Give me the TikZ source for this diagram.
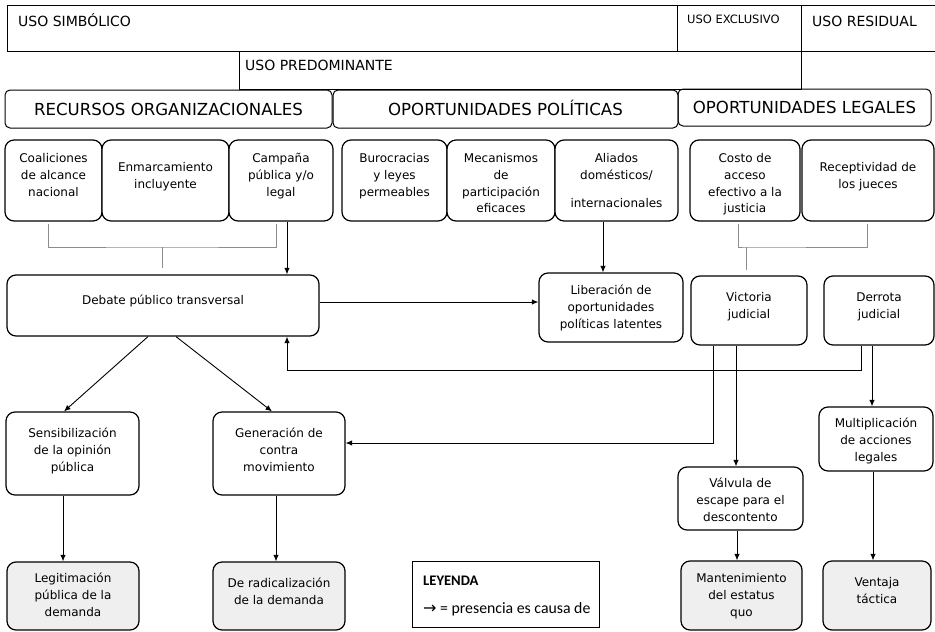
\documentclass[tikz,border=0pt]{standalone}
\usepackage{fontspec}
\setmainfont{DejaVu Sans}
\newfontfamily\legfont{Carlito}
\newfontfamily\arrfont{DejaVu Sans}
\usetikzlibrary{arrows.meta,calc}
\definecolor{boxgray}{HTML}{EFEFEF}
\tikzset{
  box/.style={draw=black, line width=1.2pt, rounded corners=9pt, inner sep=0pt},
  hdr/.style={draw=black, line width=1pt, rounded corners=5pt, inner sep=0pt,
    font=\fontsize{16.6}{20}\selectfont, text height=12.1pt, text depth=0pt},
  txt/.style={anchor=north, inner sep=0pt, align=center, font=\fontsize{12}{16.7}\selectfont},
  uso/.style={anchor=west, inner sep=0pt, text depth=0pt},
  frame/.style={draw=black, line width=0.8pt},
  brk/.style={draw=black!45, line width=0.8pt},
  arr/.style={draw=black, line width=0.9pt, -{Latex[length=6.5pt,width=5.5pt]}},
}
\newcommand\bx[8][white]{%
  \node[box, fill=#1, minimum width={(#5-#3)*1pt}, minimum height={(#6-#4)*1pt}] (#2) at ({(#3+#5)/2},{(#4+#6)/2}) {};
  \node[txt] (#2-t) at ({(#3+#5)/2},#7) {\rule{0pt}{10.5pt}#8};}
\begin{document}
\begin{tikzpicture}[x=1pt,y=-1pt]
\useasboundingbox (0,0) rectangle (935,632);
% ---- top frame ----
\draw[frame] (7,5) rectangle (935,51);
\draw[frame] (677,5) -- (677,51);
\draw[frame] (801,5) -- (801,89);
\draw[frame] (239,51) rectangle (801,89);
\node[uso, font=\fontsize{14}{16}\selectfont, text height=10.2pt] (simb) at (18,21) {USO SIMBÓLICO};
\node[uso, font=\fontsize{11.5}{14}\selectfont, text height=8.4pt] (excl) at (687,19) {USO EXCLUSIVO};
\node[uso, font=\fontsize{14}{16}\selectfont, text height=10.2pt] (resid) at (812,21) {USO RESIDUAL};
\node[uso, font=\fontsize{14}{16}\selectfont, text height=10.2pt] (pred) at (245,65) {USO PREDOMINANTE};
% ---- headers ----
\node[hdr, minimum width=327pt, minimum height=38pt] (rec) at (168.5,109) {RECURSOS ORGANIZACIONALES};
\node[hdr, minimum width=345pt, minimum height=38pt] (pol) at (505.5,109) {OPORTUNIDADES POLÍTICAS};
\node[hdr, minimum width=253pt, minimum height=37pt] (leg) at (804.5,107.5) {OPORTUNIDADES LEGALES};
% ---- row 2 ----
\bx{coal}{5}{140}{102}{221}{152}{Coaliciones\\de alcance\\nacional}
\bx{enm}{102}{140}{229}{221}{161}{Enmarcamiento\\incluyente}
\bx{camp}{229}{140}{333}{221}{152}{Campaña\\pública y/o\\legal}
\bx{buro}{342}{140}{447}{221}{152}{Burocracias\\y leyes\\permeables}
\bx{meca}{447}{140}{555}{221}{152}{Mecanismos\\de\\participación\\eficaces}
\bx{ali}{555}{140}{678}{221}{152}{Aliados\\domésticos/\\[11pt]internacionales}
\bx{costo}{690}{140}{800}{221}{152}{Costo de\\acceso\\efectivo a la\\justicia}
\bx{recep}{802}{140}{934}{221}{161}{Receptividad de\\los jueces}
% ---- row 3 ----
\bx{deb}{7}{275}{319}{336}{294}{Debate público transversal}
\bx{lib}{539}{273}{683}{342}{284}{Liberación de\\oportunidades\\políticas latentes}
\bx{vic}{691}{276}{807}{345}{291}{Victoria\\judicial}
\bx{der}{824}{276}{934}{345}{291}{Derrota\\judicial}
% ---- row 4 ----
\bx{sens}{6}{412}{139}{495}{427}{Sensibilización\\de la opinión\\pública}
\bx{gen}{213}{412}{345}{495}{427}{Generación de\\contra\\movimiento}
\bx{mult}{819}{407}{933}{471}{417}{Multiplicación\\de acciones\\legales}
\bx{valv}{678}{467}{803}{530}{477}{Válvula de\\escape para el\\descontento}
% ---- row 5 ----
\bx[boxgray]{legit}{7}{562}{139}{630}{572}{Legitimación\\pública de la\\demanda}
\bx[boxgray]{derad}{213}{562}{345}{630}{577}{De radicalización\\de la demanda}
\bx[boxgray]{mant}{681}{561}{802}{630}{572}{Mantenimiento\\del estatus\\quo}
\bx[boxgray]{vent}{823}{561}{931}{630}{576}{Ventaja\\táctica}
% ---- legend ----
\node[draw=black, line width=0.8pt, minimum width=187pt, minimum height=66pt, inner sep=0pt] (ley) at (505.5,594) {};
\node[anchor=west, inner sep=0pt, font=\legfont\bfseries\fontsize{14.6}{16}\selectfont, text height=9.4pt, text depth=0pt] (ley-t) at (423,581) {LEYENDA};
\node[anchor=west, inner sep=0pt, font=\legfont\fontsize{15.8}{18}\selectfont, text height=7.4pt, text depth=0pt] (ley-a) at (423,610) {{\arrfont\fontsize{16}{18}\selectfont →} = presencia es causa de};
% ---- brackets ----
\coordinate (ob1) at (48,224); \coordinate (ob2) at (276,224);
\coordinate (obm) at (162,247); \coordinate (obe) at (162,268);
\draw[brk] (ob1) |- (obm) -| (ob2);
\draw[brk] (obm) -- (obe);
\coordinate (lb1) at (738,224); \coordinate (lb2) at (867,224);
\coordinate (lbm) at (746,247); \coordinate (lbe) at (746,270);
\draw[brk] (lb1) |- (lbm) -| (lb2);
\draw[brk] (lbm) -- (lbe);
% ---- arrows ----
\draw[arr] ([xshift=6pt]camp.south) -- ([xshift=6pt]camp.south |- deb.north);
\draw[arr] ([xshift=-13.5pt]ali.south) -- ([xshift=-13.5pt]ali.south |- lib.north);
\draw[arr] ([yshift=3.5pt]deb.east) -- ([yshift=3.5pt]deb.east -| lib.west);
\coordinate (fbc) at (287,370);
\draw[arr] ([xshift=-18pt]der.south) |- (fbc) -- (fbc |- deb.south);
\draw[arr] ([xshift=-36pt]vic.south) |- ([yshift=10.5pt]gen.east);
\draw[arr] ([xshift=-13pt]vic.south) -- ([xshift=-13pt]vic.south |- valv.north);
\draw[arr] ([xshift=-7pt]der.south) -- ([xshift=-7pt]der.south |- mult.north);
\draw[arr] ([xshift=-15pt]deb.south) -- ([xshift=-8.5pt]sens.north);
\draw[arr] ([xshift=13pt]deb.south) -- ([xshift=-7pt]gen.north);
\draw[arr] ([xshift=-9.5pt]sens.south) -- ([xshift=-9.5pt]sens.south |- legit.north);
\draw[arr] ([xshift=-3pt]gen.south) -- ([xshift=-3pt]gen.south |- derad.north);
\draw[arr] ([xshift=-3.5pt]valv.south) -- ([xshift=-3.5pt]valv.south |- mant.north);
\draw[arr] ([xshift=-3pt]mult.south) -- ([xshift=-3pt]mult.south |- vent.north);
\end{tikzpicture}
\end{document}
